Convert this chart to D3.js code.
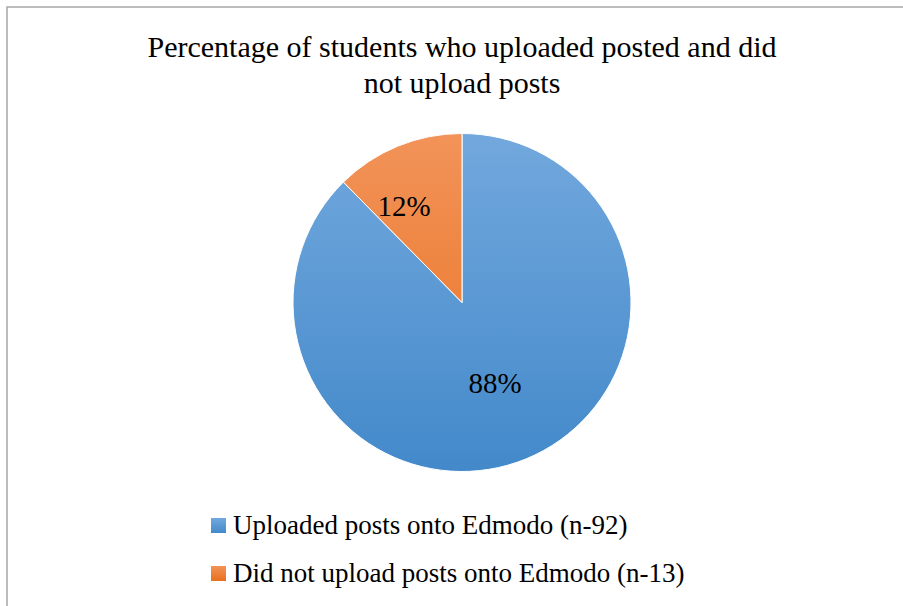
<!DOCTYPE html>
<html>
<head>
<meta charset="utf-8">
<script src="https://cdn.jsdelivr.net/npm/d3@7"></script>
</head>
<body style="margin:0">
<svg id="chart" width="903" height="606"></svg>
<script>
// datos del gráfico
const titleLines = ["Percentage of students who uploaded posted and did", "not upload posts"];
const categories = ["Uploaded posts onto Edmodo (n-92)", "Did not upload posts onto Edmodo (n-13)"];
const counts = [92, 13];
const pctLabels = ["88%", "12%"];
const gradTop = ["#72a8dd", "#f29359"];
const gradBottom = ["#4389ca", "#e8701e"];
const fonts = ["Liberation Serif", "Times New Roman"];

const fontStack = () => fonts.map(f => `"${f}"`).join(", ") + ", monospace";
const svg = d3.select("#chart");
const cx = 462, cy = 302.5, r = 169;

// marco del gráfico
svg.append("rect")
    .attr("x", 7).attr("y", 7)
    .attr("width", 1000).attr("height", 1000)
    .attr("fill", "#fff")
    .attr("stroke", "#a6a6a6")
    .attr("stroke-width", 1.5);

// título
svg.selectAll(".title")
    .data(titleLines)
    .enter()
    .append("text")
    .attr("class", "title")
    .attr("x", 462)
    .attr("y", (d, i) => 57 + i * 36)
    .attr("text-anchor", "middle")
    .style("font-family", fontStack)
    .attr("font-size", 30)
    .text(d => d);

// gradientes (coordenadas locales del grupo del pastel)
const defs = svg.append("defs");
categories.forEach((c, i) => {
    const g = defs.append("linearGradient")
        .attr("id", "grad" + i)
        .attr("gradientUnits", "userSpaceOnUse")
        .attr("x1", 0).attr("y1", -r)
        .attr("x2", 0).attr("y2", r);
    g.append("stop").attr("offset", "0%").attr("stop-color", gradTop[i]);
    g.append("stop").attr("offset", "100%").attr("stop-color", gradBottom[i]);

    const lg = defs.append("linearGradient")
        .attr("id", "lg" + i)
        .attr("x1", 0).attr("y1", 0).attr("x2", 0).attr("y2", 1);
    lg.append("stop").attr("offset", "0%").attr("stop-color", gradTop[i]);
    lg.append("stop").attr("offset", "100%").attr("stop-color", gradBottom[i]);
});

const pie = d3.pie().sort(null).value(d => d);
const arc = d3.arc().innerRadius(0).outerRadius(r);
const arcs = pie(counts);

const g = svg.append("g").attr("transform", `translate(${cx},${cy})`);

g.selectAll("path")
    .data(arcs)
    .enter()
    .append("path")
    .attr("d", arc)
    .attr("fill", (d, i) => `url(#grad${i})`)
    .attr("stroke", "#fff")
    .attr("stroke-width", 1);

// etiquetas de porcentaje
const labelArcBig = d3.arc().innerRadius(r * 0.515).outerRadius(r * 0.515);
const labelArcSmall = d3.arc().innerRadius(r * 0.67).outerRadius(r * 0.67);
g.selectAll(".lbl")
    .data(arcs)
    .enter()
    .append("text")
    .attr("class", "lbl")
    .attr("transform", (d, i) => {
        if (i === 0) {
            const [x, y] = labelArcBig.centroid(d);
            return `translate(${x},${y})`;
        }
        const [x, y] = labelArcSmall.centroid(d);
        return `translate(${x - 15},${y + 8})`;
    })
    .attr("text-anchor", "middle")
    .attr("dy", "0.35em")
    .style("font-family", fontStack)
    .attr("font-size", 29)
    .text((d, i) => pctLabels[i]);

// leyenda
const legend = svg.selectAll(".legend")
    .data(categories)
    .enter()
    .append("g")
    .attr("transform", (d, i) => `translate(211, ${518 + i * 48})`);

legend.append("rect")
    .attr("width", 15).attr("height", 15)
    .attr("fill", (d, i) => `url(#lg${i})`);

legend.append("text")
    .attr("x", 22)
    .attr("y", 16)
    .style("font-family", fontStack)
    .attr("font-size", 27)
    .text(d => d);
</script>
</body>
</html>
